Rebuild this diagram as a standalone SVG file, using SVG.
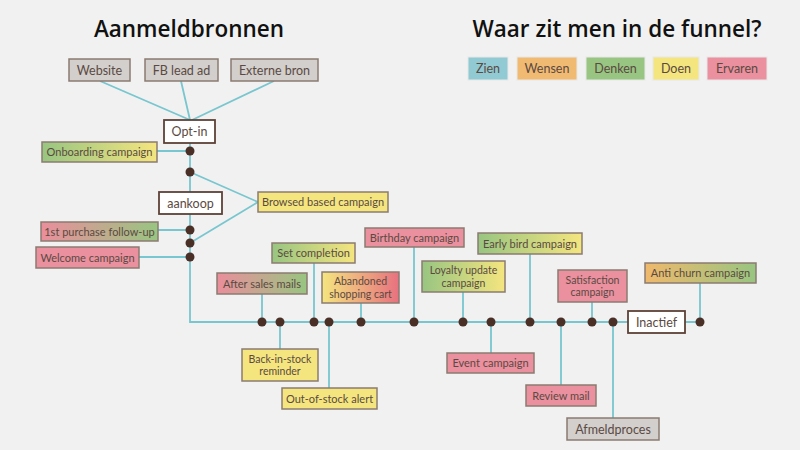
<svg xmlns="http://www.w3.org/2000/svg" width="800" height="450" viewBox="0 0 800 450">
<defs>
<linearGradient id="gPG" x1="0" x2="1" y1="0" y2="0"><stop offset="0" stop-color="#ea8e9c"/><stop offset="1" stop-color="#98c581"/></linearGradient>
<linearGradient id="gGY" x1="0" x2="1" y1="0" y2="0"><stop offset="0" stop-color="#98c581"/><stop offset="1" stop-color="#f4e57f"/></linearGradient>
<linearGradient id="gYR" x1="0" x2="1" y1="0" y2="0"><stop offset="0" stop-color="#f4e57f"/><stop offset="1" stop-color="#e8717f"/></linearGradient>
<linearGradient id="gOG" x1="0" x2="1" y1="0" y2="0"><stop offset="0" stop-color="#efb96c"/><stop offset="1" stop-color="#98c581"/></linearGradient>
<style>
.t{font-family:Lato,"Open Sans","DejaVu Sans",sans-serif;font-size:11px;fill:#5b4a42;text-anchor:middle}
.s{font-size:10.5px}
.L{font-size:12.5px}
.h{font-family:"Open Sans","Noto Sans","DejaVu Sans",sans-serif;font-size:22.5px;font-weight:600;fill:#111;text-anchor:middle}
.b{stroke:#8b7b71;stroke-width:1.5}
.w{fill:#fff;stroke:#5e4238;stroke-width:1.8}
.gr{fill:#d2cfcd}
.pk{fill:#ea909f}
.ye{fill:#f4e57f}
.lg{stroke:#e8e8e8;stroke-width:1}
.c{fill:none;stroke:#78c6cf;stroke-width:1.8}
.d{fill:#4a2f27}
</style>
</defs>
<rect width="800" height="450" fill="#f1f1f1"/>
<text class="h" x="189" y="37">Aanmeldbronnen</text>
<text class="h" x="617" y="37">Waar zit men in de funnel?</text>
<g id="legend">
<g id="lg-zien"><rect x="468" y="57" width="40" height="23" fill="#92cad4" class="lg"/><text class="t L" x="488" y="73">Zien</text></g>
<g id="lg-wensen"><rect x="517" y="57" width="60" height="23" fill="#f1ba72" class="lg"/><text class="t L" x="547" y="73">Wensen</text></g>
<g id="lg-denken"><rect x="586" y="57" width="59" height="23" fill="#98c581" class="lg"/><text class="t L" x="615.5" y="73">Denken</text></g>
<g id="lg-doen"><rect x="653" y="57" width="46" height="23" fill="#f4e57f" class="lg"/><text class="t L" x="676" y="73">Doen</text></g>
<g id="lg-ervaren"><rect x="707" y="57" width="60" height="23" fill="#ea909f" class="lg"/><text class="t L" x="737" y="73">Ervaren</text></g>
</g>
<g id="connectors">
<path class="c" d="M100 81 L190 120 M181 81 L190 120 M274 81 L192 120"/>
<path class="c" d="M190 143 V192 M190 214 V322 H628 M685 322 H700"/>
<path class="c" d="M157 151 H190 M158 230 H190 M139 257 H190"/>
<path class="c" d="M190 172 L258 202 L190 243"/>
<path class="c" d="M262 294 V322 M314 263 V322 M361 303 V322 M414 247 V322 M463 292 V322 M530 254 V322 M592 302 V322 M700 283 V322"/>
<path class="c" d="M280 322 V349 M329 322 V388 M491 322 V353 M561 322 V385 M613 322 V418"/>
</g>
<g id="dots">
<circle class="d" cx="190" cy="151" r="4.5"/>
<circle class="d" cx="190" cy="172" r="4.5"/>
<circle class="d" cx="190" cy="230" r="4.5"/>
<circle class="d" cx="190" cy="243" r="4.5"/>
<circle class="d" cx="190" cy="257" r="4.5"/>
<circle class="d" cx="262" cy="322" r="4.5"/>
<circle class="d" cx="280" cy="322" r="4.5"/>
<circle class="d" cx="314" cy="322" r="4.5"/>
<circle class="d" cx="329" cy="322" r="4.5"/>
<circle class="d" cx="361" cy="322" r="4.5"/>
<circle class="d" cx="414" cy="322" r="4.5"/>
<circle class="d" cx="463" cy="322" r="4.5"/>
<circle class="d" cx="491" cy="322" r="4.5"/>
<circle class="d" cx="530" cy="322" r="4.5"/>
<circle class="d" cx="561" cy="322" r="4.5"/>
<circle class="d" cx="592" cy="322" r="4.5"/>
<circle class="d" cx="613" cy="322" r="4.5"/>
<circle class="d" cx="700" cy="322" r="4.5"/>
</g>
<g id="website"><rect class="b gr" x="69" y="59" width="61" height="22"/><text class="t L" x="99.5" y="74.5">Website</text></g>
<g id="fb-lead-ad"><rect class="b gr" x="145" y="59" width="73" height="22"/><text class="t L" x="181.5" y="74.5">FB lead ad</text></g>
<g id="externe-bron"><rect class="b gr" x="231" y="59" width="87" height="22"/><text class="t L" x="274.5" y="74.5">Externe bron</text></g>
<g id="opt-in"><rect class="w" x="164" y="120" width="51" height="23"/><text class="t L" x="189.5" y="136">Opt-in</text></g>
<g id="onboarding"><rect class="b" fill="url(#gGY)" x="42" y="142" width="115" height="20"/><text class="t" x="99.5" y="156">Onboarding campaign</text></g>
<g id="aankoop"><rect class="w" x="159" y="192" width="63" height="22"/><text class="t L" x="190.5" y="207.5">aankoop</text></g>
<g id="browsed"><rect class="b ye" x="258" y="192" width="130" height="20"/><text class="t" x="323" y="206">Browsed based campaign</text></g>
<g id="first-purchase"><rect class="b" fill="url(#gPG)" x="41" y="222" width="117" height="19"/><text class="t" x="99.5" y="235.5">1st purchase follow-up</text></g>
<g id="welcome"><rect class="b pk" x="36" y="247" width="103" height="21"/><text class="t" x="87.5" y="261.5">Welcome campaign</text></g>
<g id="after-sales"><rect class="b" fill="url(#gPG)" x="217" y="273" width="90" height="21"/><text class="t" x="262" y="287.5">After sales mails</text></g>
<g id="set-completion"><rect class="b" fill="url(#gGY)" x="272" y="243" width="83" height="20"/><text class="t" x="313.5" y="257">Set completion</text></g>
<g id="abandoned"><rect class="b" fill="url(#gYR)" x="322" y="272" width="77" height="31"/><text class="t s" x="360.5" y="285">Abandoned</text><text class="t s" x="360.5" y="297.5">shopping cart</text></g>
<g id="birthday"><rect class="b pk" x="365" y="228" width="99" height="19"/><text class="t" x="414.5" y="241.5">Birthday campaign</text></g>
<g id="loyalty"><rect class="b" fill="url(#gGY)" x="422" y="261" width="83" height="31"/><text class="t s" x="463.5" y="274">Loyalty update</text><text class="t s" x="463.5" y="286.5">campaign</text></g>
<g id="early-bird"><rect class="b" fill="url(#gGY)" x="478" y="233" width="104" height="21"/><text class="t" x="530" y="247.5">Early bird campaign</text></g>
<g id="satisfaction"><rect class="b pk" x="558" y="270" width="69" height="32"/><text class="t s" x="592.5" y="283.5">Satisfaction</text><text class="t s" x="592.5" y="296">campaign</text></g>
<g id="inactief"><rect class="w" x="628" y="311" width="57" height="22"/><text class="t L" x="656.5" y="326.5">Inactief</text></g>
<g id="anti-churn"><rect class="b" fill="url(#gOG)" x="645" y="263" width="111" height="20"/><text class="t" x="700.5" y="277">Anti churn campaign</text></g>
<g id="back-in-stock"><rect class="b ye" x="242" y="349" width="76" height="32"/><text class="t s" x="280" y="362.5">Back-in-stock</text><text class="t s" x="280" y="375">reminder</text></g>
<g id="out-of-stock"><rect class="b ye" x="282" y="388" width="95" height="21"/><text class="t" x="329.5" y="402.5">Out-of-stock alert</text></g>
<g id="event"><rect class="b pk" x="447" y="353" width="87" height="20"/><text class="t" x="490.5" y="367">Event campaign</text></g>
<g id="review"><rect class="b pk" x="526" y="385" width="70" height="21"/><text class="t" x="561" y="399.5">Review mail</text></g>
<g id="afmeldproces"><rect class="b gr" x="567" y="418" width="92" height="22"/><text class="t L" x="613" y="433.5">Afmeldproces</text></g>
</svg>
